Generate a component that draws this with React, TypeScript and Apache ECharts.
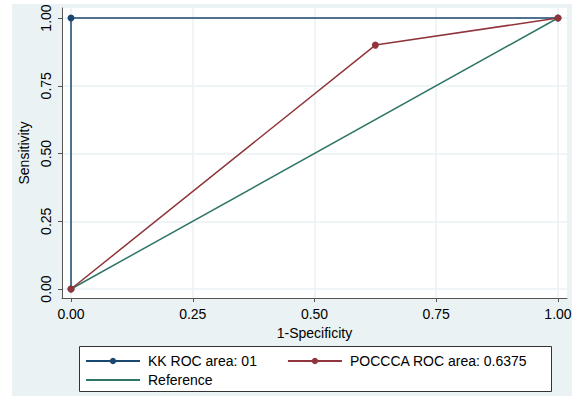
import React, { useEffect, useRef } from "react";
import * as echarts from "echarts";

const kkX = [0, 0, 1];
const kkY = [0, 1, 1];
const pocX = [0, 0.625, 1];
const pocY = [0, 0.9, 1];
const refX = [0, 1];
const refY = [0, 1];
const tickValues = [0, 0.25, 0.5, 0.75, 1];
const seriesNames = ["KK ROC area: 01", "POCCCA ROC area: 0.6375", "Reference"];

const FONT = "Liberation Sans, Arial, sans-serif";
const NAVY = "#1a476f";
const MAROON = "#90353b";
const TEAL = "#2f7568";
const BG = "#eaf2f3";

const zip = (xs: number[], ys: number[]) => xs.map((x, i) => [x, ys[i]]);

export default function App() {
  const ref = useRef<HTMLDivElement>(null);
  useEffect(() => {
    const chart = echarts.init(ref.current!, null, { renderer: "svg" });
    const axisCommon = {
      type: "value" as const,
      axisLine: { show: true, onZero: false, lineStyle: { color: "#555", width: 1 } },
      axisTick: { show: true, length: 4, lineStyle: { color: "#555" }, customValues: tickValues },
      splitLine: { show: true, lineStyle: { color: BG, width: 1.5 } },
      nameTextStyle: { fontFamily: FONT, fontSize: 14, color: "#000" },
    };
    chart.setOption({
      animation: false,
      backgroundColor: "#fff",
      graphic: [
        { type: "rect", z: -10, silent: true, shape: { x: 12, y: 4, width: 560, height: 392 }, style: { fill: BG } },
        { type: "rect", z: 1, silent: true, shape: { x: 79.5, y: 346.5, width: 472, height: 45 }, style: { fill: "#fff", stroke: "#333", lineWidth: 1 } },
      ],
      grid: { left: 62, top: 8, width: 505, height: 290, show: true, backgroundColor: "#fff", borderWidth: 0 },
      xAxis: {
        ...axisCommon,
        min: -0.0185,
        max: 1.0185,
        name: "1-Specificity",
        nameLocation: "middle",
        nameGap: 24,
        axisLabel: {
          customValues: tickValues,
          margin: 9,
          fontFamily: FONT,
          fontSize: 14,
          color: "#000",
          formatter: (v: number) => v.toFixed(2),
        },
      },
      yAxis: {
        ...axisCommon,
        min: -0.0332,
        max: 1.0369,
        name: "Sensitivity",
        nameLocation: "middle",
        nameGap: 25,
        axisLabel: {
          customValues: tickValues,
          margin: 9,
          rotate: 90,
          fontFamily: FONT,
          fontSize: 14,
          color: "#000",
          formatter: (v: number) => v.toFixed(2),
        },
      },
      legend: [
        {
          data: [seriesNames[0], seriesNames[1]],
          left: 85,
          top: 354,
          padding: 0,
          itemGap: 30,
          itemWidth: 54,
          itemHeight: 8,
          z: 5,
          textStyle: { fontFamily: FONT, fontSize: 14, color: "#000", padding: [0, 0, 0, 3] },
        },
        {
          data: [seriesNames[2]],
          left: 85,
          top: 373,
          padding: 0,
          itemWidth: 54,
          itemHeight: 8,
          z: 5,
          itemStyle: { color: "transparent", borderWidth: 0 },
          textStyle: { fontFamily: FONT, fontSize: 14, color: "#000", padding: [0, 0, 0, 3] },
        },
      ],
      series: [
        {
          name: seriesNames[2],
          type: "line",
          data: zip(refX, refY),
          symbol: "none",
          lineStyle: { color: TEAL, width: 1.5 },
          itemStyle: { color: TEAL },
          z: 2,
        },
        {
          name: seriesNames[0],
          type: "line",
          data: zip(kkX, kkY),
          symbol: "circle",
          symbolSize: 7,
          lineStyle: { color: NAVY, width: 1.5 },
          itemStyle: { color: NAVY },
          z: 3,
        },
        {
          name: seriesNames[1],
          type: "line",
          data: zip(pocX, pocY),
          symbol: "circle",
          symbolSize: 7,
          lineStyle: { color: MAROON, width: 1.5 },
          itemStyle: { color: MAROON },
          z: 4,
        },
      ],
    });
    return () => chart.dispose();
  }, []);
  return (
    <div
      ref={ref}
      style={{ position: "fixed", left: 0, top: 0, width: 584, height: 396 }}
    />
  );
}
